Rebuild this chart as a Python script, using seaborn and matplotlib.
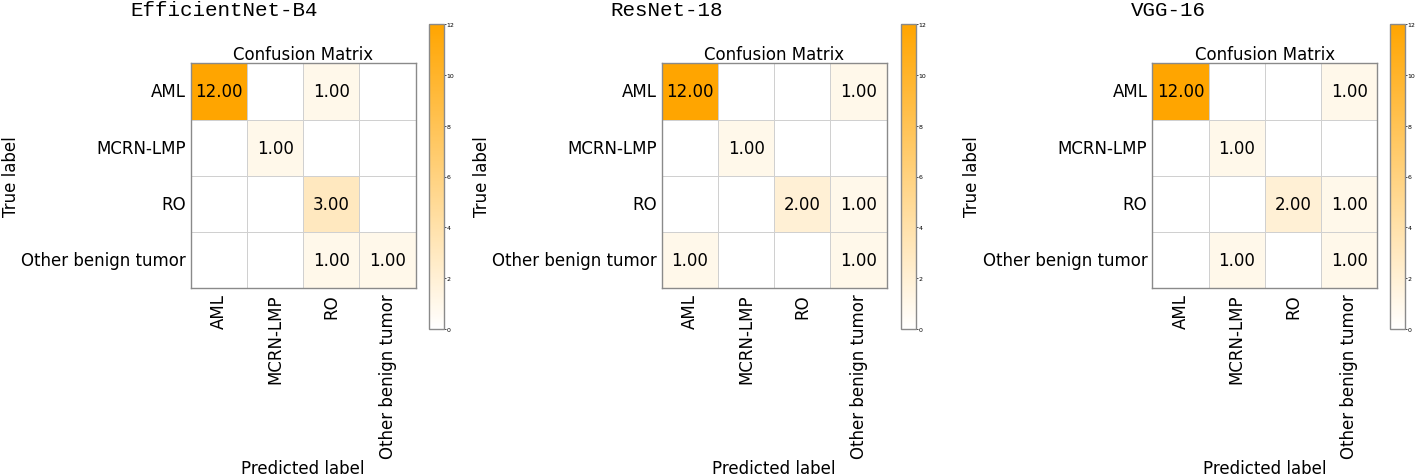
import numpy as np
import pandas as pd
import seaborn as sns
import matplotlib.pyplot as plt
from matplotlib.colors import LinearSegmentedColormap

# class names and confusion matrices (rows = true, cols = predicted)
classes = ["AML", "MCRN-LMP", "RO", "Other benign tumor"]
models = ["EfficientNet-B4", "ResNet-18", "VGG-16"]

cm_effnet = [[12, 0, 1, 0],
             [0, 1, 0, 0],
             [0, 0, 3, 0],
             [0, 0, 1, 1]]
cm_resnet = [[12, 0, 0, 1],
             [0, 1, 0, 0],
             [0, 0, 2, 1],
             [1, 0, 0, 1]]
cm_vgg = [[12, 0, 0, 1],
          [0, 1, 0, 0],
          [0, 0, 2, 1],
          [0, 1, 0, 1]]
matrices = [cm_effnet, cm_resnet, cm_vgg]

W, H = 1416, 477
cmap = LinearSegmentedColormap.from_list("wo", ["#ffffff", "#ffa500"])

fig = plt.figure(figsize=(W / 100, H / 100), dpi=100)

# pixel positions of each panel: heatmap left, colorbar left, title center
hm_left = [190.7, 661.7, 1152.3]
cb_left = [429, 900.7, 1390]
title_x = [224, 667, 1168]

for i in range(3):
    ax = fig.add_axes([hm_left[i] / W, 1 - 289.3 / H, 225 / W, 225 / H])
    cax = fig.add_axes([cb_left[i] / W, 1 - 330 / H, 15 / W, 305 / H])

    df = pd.DataFrame(matrices[i], index=classes, columns=classes)
    annot = df.map(lambda v: "" if v == 0 else f"{v:.2f}")

    sns.heatmap(df, ax=ax, cbar_ax=cax, cmap=cmap, vmin=0, vmax=12,
                annot=annot, fmt="", annot_kws={"size": 12, "color": "black"},
                linewidths=0.7, linecolor="#d0d0d0")

    ax.set_title("Confusion Matrix", fontsize=12, pad=1)
    ax.set_xlabel("Predicted label", fontsize=12, labelpad=1)
    ax.set_ylabel("True label", fontsize=12, labelpad=1)
    ax.tick_params(length=0, labelsize=12)
    plt.setp(ax.get_xticklabels(), rotation=90)
    plt.setp(ax.get_yticklabels(), rotation=0)
    for sp in ax.spines.values():
        sp.set_visible(True)
        sp.set_color("#8a8a8a")
        sp.set_linewidth(1)

    cbar = ax.collections[0].colorbar
    cbar.set_ticks(np.arange(0, 13, 2))
    cbar.ax.tick_params(labelsize=4.5, length=1.5, width=0.5, pad=0.5)
    cbar.outline.set_linewidth(1)
    cbar.outline.set_edgecolor("#8a8a8a")

    fig.text(title_x[i] / W, 1 - 1 / H, models[i], ha="center", va="top",
             fontsize=15, family="Liberation Mono")

fig.savefig("out.png", dpi=100)
